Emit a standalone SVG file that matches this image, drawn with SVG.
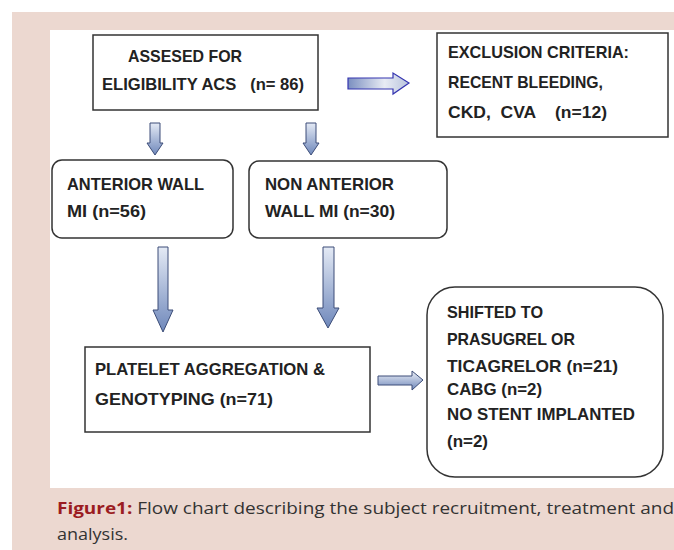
<svg xmlns="http://www.w3.org/2000/svg" width="674" height="550" viewBox="0 0 674 550">
<defs>
<linearGradient id="gv" x1="0" y1="0" x2="0" y2="1">
<stop offset="0" stop-color="#e4eaf5"/><stop offset="1" stop-color="#6f88bb"/>
</linearGradient>
<linearGradient id="gh" x1="0" y1="0" x2="1" y2="0">
<stop offset="0" stop-color="#7b8fc0"/><stop offset="0.6" stop-color="#e8ecf4"/><stop offset="1" stop-color="#b8c3dc"/>
</linearGradient>
<linearGradient id="gh2" x1="0" y1="0" x2="0" y2="1">
<stop offset="0" stop-color="#eef1f7"/><stop offset="1" stop-color="#6f88bb"/>
</linearGradient>
</defs>
<style>
.t{font-family:"Liberation Sans",Arial,sans-serif;font-weight:bold;font-size:17px;fill:#222}
.box{fill:#fff;stroke:#333;stroke-width:1.5}
.av{fill:url(#gv);stroke:#3c4d78;stroke-width:1}
.cap{font-family:"Open Sans","Liberation Sans",sans-serif;font-size:16px;fill:#333}
</style>
<rect x="0" y="0" width="674" height="550" fill="#fff"/>
<rect x="12" y="12" width="662" height="538" fill="#ecd8d0"/>
<rect x="50" y="30" width="624" height="458" fill="#fff"/>

<g id="connectors">
<path class="av" d="M150,123 H160 V143 H163 L155,155 L147,143 H150 Z"/>
<path class="av" d="M306,123 H316 V143 H319 L311,155 L303,143 H306 Z"/>
<path d="M348,78 H393 V73 L409,83 L393,94 V89 H348 Z" fill="url(#gh)" stroke="#3434b0" stroke-width="1.2"/>
<path class="av" d="M158,247 H168 V310 H173 L163,332 L153,310 H158 Z"/>
<path class="av" d="M323,247 H334 V308 H339 L328,328 L317,308 H323 Z"/>
<path d="M378,376 H412 V371 L423,380 L412,390 V385 H378 Z" fill="url(#gh2)" stroke="#3c4d78" stroke-width="1"/>
</g>

<g id="n1">
<rect class="box" x="93" y="35" width="225" height="75"/>
<text class="t" x="128" y="62" textLength="114" lengthAdjust="spacingAndGlyphs">ASSESED FOR</text>
<text class="t" x="102" y="90" textLength="202" lengthAdjust="spacingAndGlyphs" xml:space="preserve">ELIGIBILITY ACS   (n= 86)</text>
</g>
<g id="n2">
<rect class="box" x="437" y="33" width="231" height="104"/>
<text class="t" x="448" y="58" textLength="181" lengthAdjust="spacingAndGlyphs">EXCLUSION CRITERIA:</text>
<text class="t" x="448" y="88" textLength="155" lengthAdjust="spacingAndGlyphs">RECENT BLEEDING,</text>
<text class="t" x="448" y="118" textLength="159" lengthAdjust="spacingAndGlyphs" xml:space="preserve">CKD,  CVA    (n=12)</text>
</g>
<g id="n3">
<rect class="box" x="52" y="160" width="181" height="78" rx="10"/>
<text class="t" x="67" y="190" textLength="137" lengthAdjust="spacingAndGlyphs">ANTERIOR WALL</text>
<text class="t" x="67" y="217" textLength="79" lengthAdjust="spacingAndGlyphs">MI (n=56)</text>
</g>
<g id="n4">
<rect class="box" x="249" y="161" width="198" height="77" rx="10"/>
<text class="t" x="265" y="190" textLength="129" lengthAdjust="spacingAndGlyphs">NON ANTERIOR</text>
<text class="t" x="265" y="217" textLength="130" lengthAdjust="spacingAndGlyphs">WALL MI (n=30)</text>
</g>
<g id="n5">
<rect class="box" x="85" y="347" width="285" height="85"/>
<text class="t" x="95" y="375" textLength="230" lengthAdjust="spacingAndGlyphs">PLATELET AGGREGATION &amp;</text>
<text class="t" x="95" y="405" textLength="178" lengthAdjust="spacingAndGlyphs">GENOTYPING (n=71)</text>
</g>
<g id="n6">
<rect class="box" x="427" y="287" width="236" height="190" rx="28"/>
<text class="t" x="447" y="318" textLength="96" lengthAdjust="spacingAndGlyphs">SHIFTED TO</text>
<text class="t" x="447" y="345" textLength="128" lengthAdjust="spacingAndGlyphs">PRASUGREL OR</text>
<text class="t" x="447" y="372" textLength="171" lengthAdjust="spacingAndGlyphs">TICAGRELOR (n=21)</text>
<text class="t" x="447" y="395" textLength="95" lengthAdjust="spacingAndGlyphs">CABG (n=2)</text>
<text class="t" x="447" y="420" textLength="188" lengthAdjust="spacingAndGlyphs">NO STENT IMPLANTED</text>
<text class="t" x="447" y="447" textLength="41" lengthAdjust="spacingAndGlyphs">(n=2)</text>
</g>

<g id="caption">
<text class="cap" x="57" y="514" textLength="617" lengthAdjust="spacingAndGlyphs"><tspan fill="#9b1c22" font-weight="bold">Figure1:</tspan> Flow chart describing the subject recruitment, treatment and</text>
<text class="cap" x="57" y="540" textLength="71" lengthAdjust="spacingAndGlyphs">analysis.</text>
</g>
</svg>
